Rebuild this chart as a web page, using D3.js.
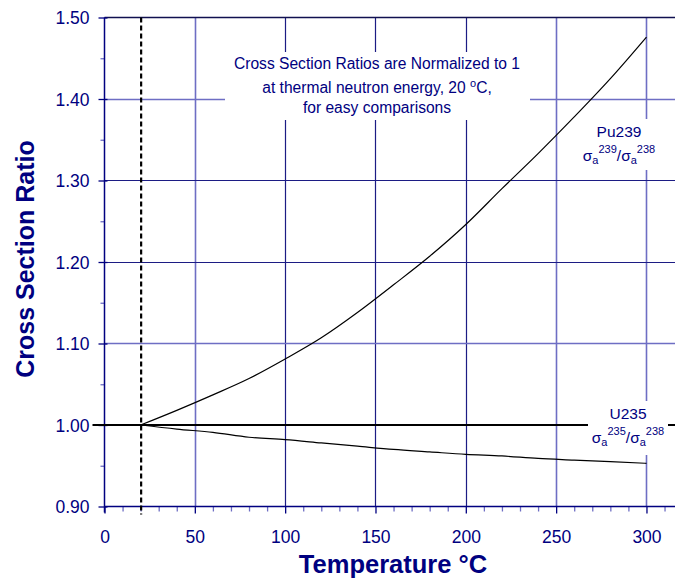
<!DOCTYPE html>
<html><head><meta charset="utf-8">
<script src="https://cdn.jsdelivr.net/npm/d3@7"></script>
<style>body{margin:0;background:#fff}svg{display:block;font-family:"Liberation Sans",Arial,sans-serif}</style>
</head><body><svg id="c" width="675" height="578"></svg>
<script>
const temps = [20, 40, 60, 80, 100, 120, 140, 160, 180, 200, 220, 240, 260, 280, 300];
const pu239 = [1.000, 1.018, 1.037, 1.057, 1.081, 1.107, 1.138, 1.172, 1.207, 1.246, 1.290, 1.333, 1.378, 1.425, 1.476];
const u235  = [1.000, 0.995, 0.991, 0.985, 0.982, 0.978, 0.974, 0.970, 0.967, 0.964, 0.962, 0.959, 0.957, 0.955, 0.953];
const xTicks = [0, 50, 100, 150, 200, 250, 300];
const yTicks = [0.90, 1.00, 1.10, 1.20, 1.30, 1.40, 1.50];
const refTemp = 20;
const refRatio = 1.0;

const navy = "#000080", gridDark = "#1c1c84", gridLight = "#6e6ec4";
const svg = d3.select("#c");
const x = d3.scaleLinear().domain([0, 320]).range([104.5, 682.6]);
const y = d3.scaleLinear().domain([0.9, 1.5]).range([506.5, 17.5]);
const L = 104.5, R = 675, T = 17.5, B = 506.5;

// grid
const lightX = new Set([50, 250, 300]);
const lightY = new Set([1.1, 1.4]);
svg.append("g").selectAll("line").data(xTicks.filter(d => d > 0)).join("line")
  .attr("x1", d => Math.round(x(d)) + 0.5).attr("x2", d => Math.round(x(d)) + 0.5)
  .attr("y1", T).attr("y2", B)
  .attr("stroke", d => lightX.has(d) ? gridLight : gridDark).attr("stroke-width", d => lightX.has(d) ? 1.6 : 1.2);
svg.append("g").selectAll("line").data(yTicks.filter(d => d > 0.95 && d < 1.45 && Math.abs(d - 1) > 1e-9)).join("line")
  .attr("x1", L).attr("x2", R)
  .attr("y1", d => Math.round(y(d)) + 0.5).attr("y2", d => Math.round(y(d)) + 0.5)
  .attr("stroke", d => lightY.has(+d.toFixed(2)) ? gridLight : gridDark).attr("stroke-width", d => lightY.has(+d.toFixed(2)) ? 1.6 : 1.2);
// top border
svg.append("line").attr("x1", L).attr("x2", R).attr("y1", T).attr("y2", T).attr("stroke", "#101050").attr("stroke-width", 1.5);

// axes
const xAxis = d3.axisBottom(x).tickValues(d3.range(0, 321, 10)).tickSize(0).tickFormat("");
const gx = svg.append("g").attr("transform", `translate(0,${B})`).call(xAxis);
gx.select(".domain").remove();
gx.append("line").attr("x1", L).attr("x2", R).attr("stroke", navy).attr("stroke-width", 1.5);
gx.selectAll(".tick line").attr("y1", 0).attr("y2", d => d % 50 === 0 ? 7 : 5).attr("stroke", d => d % 50 === 0 ? navy : gridLight).attr("stroke-width", 1.3);
gx.selectAll(".tick").filter(d => xTicks.includes(d)).append("text")
  .attr("y", 36).attr("text-anchor", "middle").attr("fill", navy).attr("font-size", 17.5).text(d => d);

const yAxis = d3.axisLeft(y).tickValues(d3.range(0, 13).map(i => 0.9 + i * 0.05)).tickSize(0).tickFormat("");
const gy = svg.append("g").attr("transform", `translate(${L},0)`).call(yAxis);
gy.select(".domain").remove();
gy.append("line").attr("y1", T).attr("y2", B + 6).attr("stroke", navy).attr("stroke-width", 1.5);
gy.selectAll(".tick").each(function(d) {
  const major = Math.abs(Math.round(d * 10) - d * 10) < 1e-6;
  d3.select(this).select("line").attr("x1", major ? -6 : -4).attr("x2", major ? 3 : 0)
    .attr("stroke", major ? navy : gridLight).attr("stroke-width", 1.3);
});
gy.selectAll(".tick").filter(d => Math.abs(Math.round(d * 10) - d * 10) < 1e-6).append("text")
  .attr("x", -15).attr("dy", "0.36em").attr("text-anchor", "end").attr("fill", navy).attr("font-size", 17.5)
  .text(d => d3.format(".2f")(d));

// reference line at 1.00
svg.append("line").attr("x1", L - 12).attr("x2", R).attr("y1", y(refRatio)).attr("y2", y(refRatio))
  .attr("stroke", "#000").attr("stroke-width", 2.2);
// dashed vertical at 20 C
svg.append("line").attr("x1", x(refTemp) + 0.5).attr("x2", x(refTemp) + 0.5).attr("y1", T).attr("y2", B + 8)
  .attr("stroke", "#000").attr("stroke-width", 2.2).attr("stroke-dasharray", "5,3");

// curves
const line = d3.line().x((d, i) => x(temps[i])).y(d => y(d)).curve(d3.curveMonotoneX);
svg.append("path").attr("d", line(pu239)).attr("fill", "none").attr("stroke", "#000").attr("stroke-width", 1.2);
svg.append("path").attr("d", line(u235)).attr("fill", "none").attr("stroke", "#000").attr("stroke-width", 1.2);

// annotation box
svg.append("rect").attr("x", 225).attr("y", 52).attr("width", 305).attr("height", 68).attr("fill", "#fff");
const ann = svg.append("text").attr("fill", navy).attr("font-size", 15.6).attr("text-anchor", "middle");
ann.append("tspan").attr("x", 377).attr("y", 68.5).text("Cross Section Ratios are Normalized to 1");
const l2 = ann.append("tspan").attr("x", 377).attr("y", 92.5);
l2.append("tspan").text("at thermal neutron energy, 20 ");
l2.append("tspan").attr("dy", -6).attr("font-size", 11).text("o");
l2.append("tspan").attr("dy", 6).text("C,");
ann.append("tspan").attr("x", 377).attr("y", 112.5).text("for easy comparisons");

function label(cx, y0, top, a, b, boxX, boxY, boxW, boxH) {
  svg.append("rect").attr("x", boxX).attr("y", boxY).attr("width", boxW).attr("height", boxH).attr("fill", "#fff");
  svg.append("text").attr("x", cx).attr("y", y0).attr("text-anchor", "middle").attr("fill", navy).attr("font-size", 15.5).text(top);
  const t = svg.append("text").attr("x", cx).attr("y", y0 + 24).attr("text-anchor", "middle").attr("fill", navy).attr("font-size", 15.5);
  t.append("tspan").text("σ");
  t.append("tspan").attr("font-size", 11).attr("dy", 3).text("a");
  t.append("tspan").attr("font-size", 11).attr("dy", -11).text(a);
  t.append("tspan").attr("dy", 8).text("/σ");
  t.append("tspan").attr("font-size", 11).attr("dy", 3).text("a");
  t.append("tspan").attr("font-size", 11).attr("dy", -11).text(b);
}
label(619, 137, "Pu239", "239", "238", 578, 119, 74, 51);
label(628, 419, "U235", "235", "238", 588, 401, 80, 54);

// axis titles
svg.append("text").attr("x", 393).attr("y", 573).attr("text-anchor", "middle").attr("fill", navy)
  .attr("font-size", 25.5).attr("font-weight", "bold").text("Temperature °C");
svg.append("text").attr("transform", "translate(34,259) rotate(-90)").attr("text-anchor", "middle").attr("fill", navy)
  .attr("font-size", 25).attr("font-weight", "bold").text("Cross Section Ratio");
</script></body></html>
